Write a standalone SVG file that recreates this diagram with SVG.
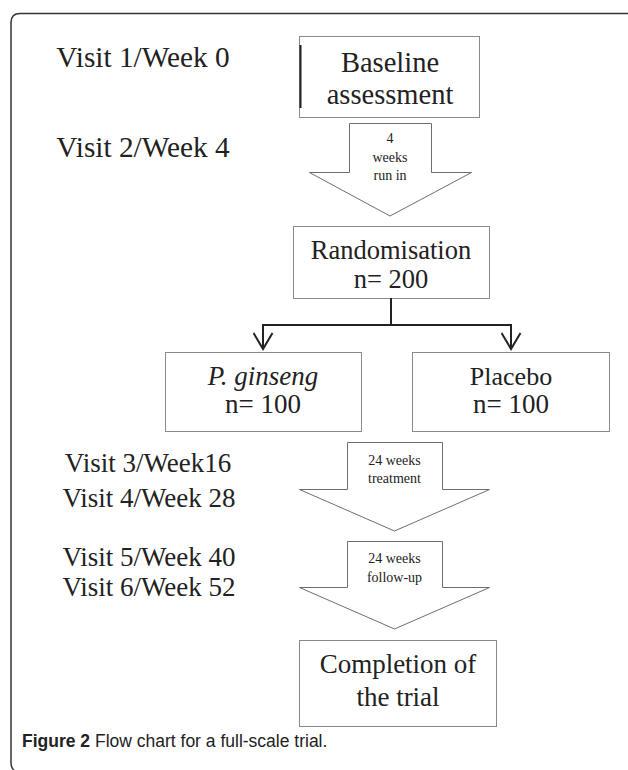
<svg xmlns="http://www.w3.org/2000/svg" width="628" height="770" viewBox="0 0 628 770">
<style>
.bg{fill:#fff}
.frame{fill:none;stroke:#333;stroke-width:1.5}
.box{fill:#fff;stroke:#8a8a8a;stroke-width:1}
.arrow{fill:#fff;stroke:#6e6e6e;stroke-width:1}
.t{font-family:"Liberation Serif","Times New Roman",serif;fill:#222}
.big{font-size:27px}
.lbl{font-size:27px}
.lbl2{font-size:29.3px}
.small{font-size:14px}
.conn{fill:none;stroke:#222;stroke-width:2}
.cap{font-family:"Liberation Sans",Arial,sans-serif;font-size:17.5px;fill:#222}
</style>
<defs>
<marker id="vhead" viewBox="0 0 19 21" refX="17" refY="10.5" markerWidth="19" markerHeight="21" markerUnits="userSpaceOnUse" orient="auto">
<path d="M1,1 L17,10.5 L1,20" fill="none" stroke="#222" stroke-width="2"/>
</marker>
</defs>
<rect class="bg" x="0" y="0" width="628" height="770"/>
<path class="frame" d="M629,13.5 L20,13.5 Q11,13.5 11,22.5 L11,762 Q11,768 14,770"/>

<g id="visit-labels">
<text class="t lbl2" x="143" y="67" text-anchor="middle">Visit 1/Week 0</text>
<text class="t lbl2" x="143" y="157" text-anchor="middle">Visit 2/Week 4</text>
<text class="t lbl" x="148" y="472" text-anchor="middle">Visit 3/Week16</text>
<text class="t lbl" x="149" y="507" text-anchor="middle">Visit 4/Week 28</text>
<text class="t lbl" x="149" y="566" text-anchor="middle">Visit 5/Week 40</text>
<text class="t lbl" x="149" y="596" text-anchor="middle">Visit 6/Week 52</text>
</g>

<g id="baseline">
<rect class="box" x="299.5" y="36.5" width="180" height="81"/>
<line x1="300.5" y1="45" x2="300.5" y2="108" stroke="#222" stroke-width="2"/>
<text class="t" font-size="28.5" x="390" y="72" text-anchor="middle">Baseline</text>
<text class="t" font-size="28.5" x="390" y="104" text-anchor="middle">assessment</text>
</g>

<g id="arrow-runin">
<polygon class="arrow" points="349.5,123.5 431.5,123.5 431.5,172.5 471.5,172.5 390,216 309.5,172.5 349.5,172.5"/>
<text class="t small" x="390" y="143" text-anchor="middle">4</text>
<text class="t small" x="390" y="162" text-anchor="middle">weeks</text>
<text class="t small" x="390" y="180" text-anchor="middle">run in</text>
</g>

<g id="randomisation">
<rect class="box" x="293.5" y="226.5" width="196" height="72"/>
<text class="t" font-size="26.5" x="391" y="259" text-anchor="middle">Randomisation</text>
<text class="t" font-size="26.5" x="391" y="288" text-anchor="middle">n= 200</text>
</g>

<g id="connectors">
<path class="conn" d="M391,298 L391,325 M262,325 L512,325"/>
<path class="conn" d="M263,324 L263,349" marker-end="url(#vhead)"/>
<path class="conn" d="M511,324 L511,349" marker-end="url(#vhead)"/>
</g>

<g id="ginseng">
<rect class="box" x="165.5" y="352.5" width="196" height="79"/>
<text class="t big" x="263" y="385" text-anchor="middle"><tspan font-style="italic">P. ginseng</tspan></text>
<text class="t big" x="263" y="413" text-anchor="middle">n= 100</text>
</g>

<g id="placebo">
<rect class="box" x="412.5" y="352.5" width="197" height="79"/>
<text class="t" font-size="26" x="511" y="385" text-anchor="middle">Placebo</text>
<text class="t big" x="511" y="413" text-anchor="middle">n= 100</text>
</g>

<g id="arrow-treatment">
<polygon class="arrow" points="347.5,442.5 442.5,442.5 442.5,489.5 489.5,489.5 394.5,531 299.5,489.5 347.5,489.5"/>
<text class="t small" x="394.5" y="465" text-anchor="middle">24 weeks</text>
<text class="t small" x="394.5" y="483" text-anchor="middle">treatment</text>
</g>

<g id="arrow-followup">
<polygon class="arrow" points="347.5,541.5 442.5,541.5 442.5,587.5 489.5,587.5 394.5,629 299.5,587.5 347.5,587.5"/>
<text class="t small" x="394.5" y="563" text-anchor="middle">24 weeks</text>
<text class="t small" x="394.5" y="582" text-anchor="middle">follow-up</text>
</g>

<g id="completion">
<rect class="box" x="299.5" y="640.5" width="197" height="86"/>
<text class="t big" x="398" y="673" text-anchor="middle">Completion of</text>
<text class="t big" x="398" y="706" text-anchor="middle">the trial</text>
</g>

<g id="caption">
<text class="cap" x="22" y="747"><tspan font-weight="bold">Figure 2</tspan> Flow chart for a full-scale trial.</text>
</g>
</svg>
